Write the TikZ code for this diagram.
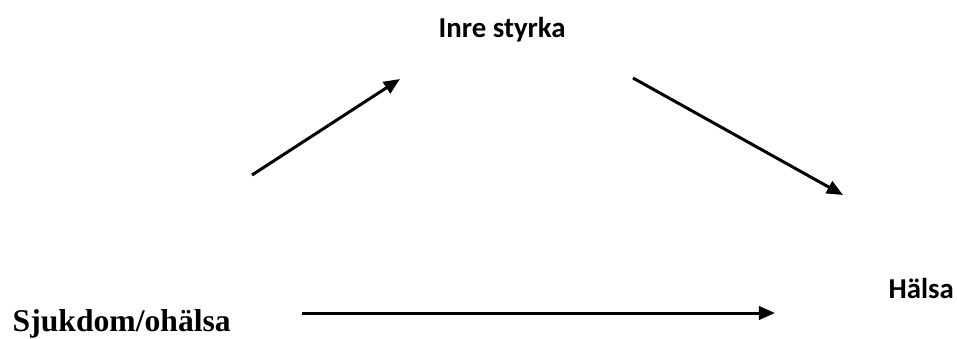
\documentclass[tikz,border=0pt]{standalone}
\usepackage{fontspec}
\usepackage{tikz}
\usetikzlibrary{arrows.meta,positioning}
\newfontfamily\calibrifont{Carlito}
\newfontfamily\timesfont{Liberation Serif}
\tikzset{
  sanslabel/.style={inner sep=0pt,font=\calibrifont\bfseries\fontsize{8.2}{10}\selectfont},
  seriflabel/.style={inner sep=0pt,font=\timesfont\bfseries\fontsize{9}{11}\selectfont},
  flow/.style={line width=0.85pt,-{Triangle[length=4.6pt,width=3.8pt]}}
}
\begin{document}
\begin{tikzpicture}[x=0.01cm,y=-0.01cm]
\useasboundingbox (0,0) rectangle (957,338);
% labels
\node[sanslabel,anchor=base west] (inre) at (438,37) {Inre styrka};
\node[sanslabel,anchor=base west] (halsa) at (888,298) {Hälsa};
\node[seriflabel,anchor=base west] (sjuk) at (12,331) {Sjukdom/ohälsa};
% arrow ends
\coordinate (a1s) at (252,175);
\coordinate (a1e) at (400,79);
\coordinate (a2s) at (633,78);
\coordinate (a2e) at (843,195);
\coordinate (a3s) at (302,313);
\coordinate (a3e) at (775,313);
\draw[flow] (a1s) -- (a1e);
\draw[flow] (a2s) -- (a2e);
\draw[flow] (a3s) -- (a3e);
\end{tikzpicture}
\end{document}
